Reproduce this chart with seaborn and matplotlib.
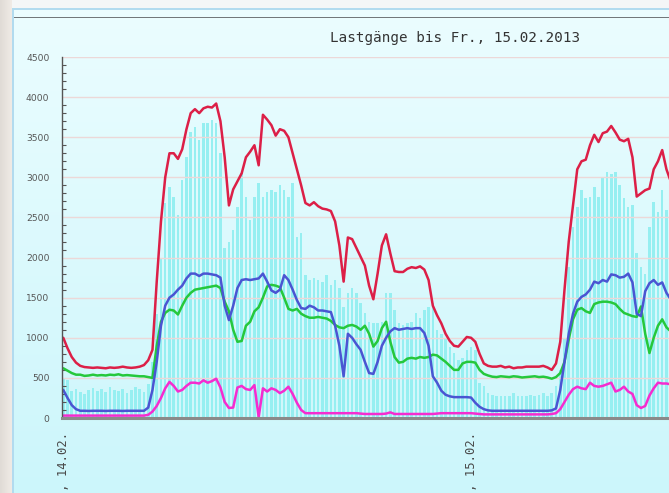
import numpy as np
import pandas as pd
import matplotlib
matplotlib.use("Agg")
import matplotlib.pyplot as plt
import seaborn as sns
from matplotlib.ticker import MultipleLocator

# ---------------- data (15-minute values, Do. 14.02.2013 00:00 onwards) ----------------
red = [1000, 870, 760, 690, 650, 635, 630, 625, 630, 625, 620, 630, 625, 630, 640, 630, 625, 630, 640, 660,
       720, 850, 1700, 2450, 3000, 3300, 3300, 3230, 3350, 3600,
       3800, 3850, 3800, 3860, 3880, 3870, 3920, 3700, 3250, 2650,
       2850, 2950, 3050, 3250, 3320, 3400, 3150, 3780, 3720, 3650,
       3520, 3600, 3580, 3500, 3300, 3100, 2900, 2680, 2650, 2690,
       2640, 2610, 2600, 2580, 2450, 2150, 1700, 2250, 2230, 2120,
       2010, 1900, 1650, 1480, 1800, 2150, 2290, 2050, 1830, 1820,
       1820, 1860, 1880, 1870, 1890, 1850, 1720, 1400, 1280, 1180,
       1050, 960, 900, 890, 950, 1010, 1000, 950, 800, 680,
       650, 640, 640, 650, 630, 640, 620, 630, 630, 640,
       640, 640, 640, 650, 630, 600, 680, 950, 1600, 2200,
       2650, 3100, 3200, 3220, 3400, 3530, 3440, 3550, 3570, 3640,
       3560, 3470, 3450, 3480, 3250, 2760, 2800, 2840, 2860, 3100,
       3200, 3340, 3100, 2950]

blue = [350, 250, 160, 110, 90, 90, 88, 90, 90, 90, 88, 90, 90, 90, 88, 90, 90, 90, 90, 90,
        130, 350, 700, 1150, 1400, 1500, 1540, 1600, 1650, 1740,
        1800, 1800, 1770, 1800, 1800, 1790, 1780, 1750, 1400, 1220,
        1400, 1620, 1720, 1730, 1720, 1730, 1740, 1800, 1700, 1590,
        1560, 1600, 1780, 1720, 1600, 1470, 1370, 1360, 1400, 1380,
        1340, 1340, 1330, 1320, 1150, 900, 520, 1050, 1000, 920,
        850, 700, 560, 550, 700, 900, 1000, 1080, 1120, 1100,
        1110, 1120, 1110, 1120, 1120, 1060, 900, 520, 440, 340,
        290, 270, 260, 260, 260, 260, 255, 190, 140, 110,
        95, 90, 90, 90, 90, 90, 90, 90, 90, 90,
        90, 90, 90, 90, 90, 95, 120, 350, 700, 1050,
        1300, 1450, 1510, 1540, 1600, 1700, 1680, 1720, 1700, 1790,
        1780, 1750, 1760, 1800, 1690, 1300, 1270, 1580, 1680, 1720,
        1660, 1690, 1560, 1480]

green = [620, 590, 560, 540, 540, 525, 530, 540, 530, 535, 530, 540, 535, 545, 530, 535, 530, 525, 520, 520,
         510, 500, 900, 1200, 1310, 1350, 1340, 1290, 1400, 1500,
         1560, 1600, 1610, 1620, 1630, 1640, 1650, 1620, 1450, 1330,
         1100, 950, 960, 1150, 1200, 1330, 1380, 1500, 1640, 1660,
         1650, 1630, 1500, 1360, 1340, 1360, 1300, 1270, 1250, 1250,
         1260, 1250, 1240, 1210, 1160, 1130, 1120, 1150, 1160, 1140,
         1100, 1150, 1050, 890, 960, 1120, 1200, 950, 760, 690,
         700, 740, 750, 740, 760, 750, 760, 790, 780, 740,
         700, 650, 600, 600, 680, 700, 700, 690, 600, 550,
         530, 515, 510, 520, 515, 510, 520, 515, 505, 510,
         515, 520, 510, 515, 505, 490, 510, 560, 700, 980,
         1230, 1350, 1370, 1330, 1310, 1420, 1440, 1450, 1450, 1440,
         1420, 1360, 1310, 1290, 1270, 1260, 1390, 1050, 810, 1000,
         1150, 1230, 1130, 1080]

magenta = [30, 30, 30, 30, 30, 30, 30, 30, 30, 30, 30, 30, 30, 30, 30, 30, 30, 30, 30, 30,
           40, 80, 150, 250, 370, 450, 400, 330, 350, 400,
           440, 440, 430, 470, 440, 460, 490, 380, 200, 125,
           130, 380, 400, 360, 350, 410, 10, 370, 330, 370,
           350, 310, 340, 390, 300, 190, 100, 60, 60, 60,
           60, 60, 60, 60, 60, 60, 60, 60, 60, 60,
           55, 50, 50, 50, 50, 50, 55, 70, 50, 50,
           50, 50, 50, 50, 50, 50, 50, 50, 55, 60,
           60, 60, 60, 60, 60, 60, 60, 55, 50, 45,
           45, 45, 45, 45, 45, 45, 45, 45, 45, 45,
           45, 45, 45, 45, 45, 50, 60, 110, 200, 290,
           360, 390, 370, 360, 440, 400, 390, 400, 420, 440,
           330, 350, 390, 330, 300, 160, 125, 150, 280, 370,
           440, 430, 430, 420]

bars = [480, 470, 340, 360, 320, 300, 350, 380, 340, 360, 330, 390, 350, 340, 360, 310, 350, 390, 360, 330,
        420, 700, 1300, 2000, 2680, 2880, 2760, 2530, 2970, 3250,
        3570, 3630, 3470, 3680, 3680, 3720, 3680, 3300, 2120, 2190,
        2340, 2630, 3050, 2760, 2470, 2760, 2930, 2760, 2820, 2840,
        2820, 2900, 2840, 2760, 2930, 2260, 2310, 1780, 1720, 1740,
        1720, 1700, 1780, 1660, 1720, 1620, 1380, 1560, 1620, 1560,
        1430, 1310, 1200, 1180, 1180, 1200, 1560, 1560, 1350, 1180,
        1160, 1180, 1200, 1310, 1250, 1350, 1380, 1430, 1100, 1050,
        980, 890, 810, 720, 750, 850, 890, 850, 440, 400,
        310, 290, 280, 270, 280, 270, 310, 280, 270, 280,
        290, 280, 290, 310, 280, 310, 400, 600, 1000, 1880,
        2380, 2630, 2840, 2740, 2760, 2880, 2760, 3000, 3070, 3040,
        3070, 2900, 2740, 2630, 2660, 2060, 1880, 1800, 2380, 2690,
        2570, 2840, 2590, 2700]

day_labels = ["Do., 14.02.", "Fr., 15.02."]
title = "Lastgänge bis Fr., 15.02.2013"

# ---------------- figure ----------------
sns.set_style("white")
plt.rcParams["font.family"] = ["DejaVu Sans"]

W, H = 669, 493
fig = plt.figure(figsize=(W / 100, H / 100), dpi=100)

# page / panel background
bg = fig.add_axes([0, 0, 1, 1], zorder=-10)
bg.set_axis_off()
img = np.ones((H, W, 3))
top_c = np.array([0.925, 0.992, 1.0])
bot_c = np.array([0.80, 0.965, 0.985])
frac = np.linspace(0, 1, H)[:, None]
img[:, :, :] = (top_c[None, :] * (1 - frac) + bot_c[None, :] * frac)[:, None, :]
img[:9, :, :] = np.array([0.96, 0.965, 0.97])
img[:, :12, :] = np.array([0.88, 0.86, 0.84])
img[:, :12, :] += np.linspace(0, 0.06, 12)[None, :, None]
img[8:10, 12:, :] = np.array([0.70, 0.86, 0.94])
img[8:, 12:14, :] = np.array([0.70, 0.86, 0.94])
img[17:18, 14:, :] = np.array([0.45, 0.47, 0.48])
bg.imshow(np.clip(img, 0, 1), extent=[0, W, H, 0], aspect="auto", interpolation="nearest")
bg.set_xlim(0, W)
bg.set_ylim(H, 0)

ax = fig.add_axes([62 / W, 75 / H, 1 - 62 / W, 361 / H])
ax.patch.set_alpha(0)

times = pd.date_range("2013-02-14 00:00", periods=len(red), freq="15min")
idx = np.arange(len(red))

sns.barplot(x=idx, y=bars, native_scale=True, color="#96eff1", saturation=1,
            width=0.6, errorbar=None, ax=ax, zorder=1, linewidth=0)

df = pd.DataFrame({"idx": idx, "rot": red, "blau": blue, "gruen": green, "magenta": magenta})
long = df.melt(id_vars="idx", var_name="serie", value_name="wert")
palette = {"rot": "#dc1f47", "blau": "#4a55d2", "gruen": "#25c83c", "magenta": "#f52ccf"}
sns.lineplot(data=long, x="idx", y="wert", hue="serie", palette=palette,
             hue_order=["magenta", "gruen", "blau", "rot"], estimator=None,
             linewidth=1.8, legend=False, ax=ax, zorder=3)
for ln in ax.lines:
    ln.set_zorder(3)

ax.set_ylim(0, 4500)
ax.set_xlim(-0.3, 142.6)
ax.yaxis.set_major_locator(MultipleLocator(500))
ax.yaxis.set_minor_locator(MultipleLocator(100))
ax.yaxis.grid(True, which="major", color="#ecd8d8", linewidth=1.0)
ax.xaxis.grid(False)
ax.set_axisbelow(False)

midnights = [i for i, t in enumerate(times) if t.hour == 0 and t.minute == 0]
ax.set_xticks(midnights)
ax.set_xticklabels(day_labels[:len(midnights)], rotation=90, va="top", ha="center",
                   family="DejaVu Sans Mono", fontsize=8.8, color="#4a4a4a")
ax.tick_params(axis="x", length=0, pad=10)
ax.tick_params(axis="y", which="major", direction="in", length=5, width=1, color="#555555",
               labelsize=6.6, labelcolor="#555555", pad=9)
ax.tick_params(axis="y", which="minor", direction="in", length=3, width=0.8, color="#555555", left=True)
ax.set_xlabel("")
ax.set_ylabel("")

for s in ["top", "right"]:
    ax.spines[s].set_visible(False)
ax.spines["left"].set_color("#555555")
ax.spines["left"].set_linewidth(1.0)
ax.spines["bottom"].set_color("#8a8a8a")
ax.spines["bottom"].set_linewidth(2.2)
ax.spines["left"].set_zorder(4)
ax.spines["bottom"].set_zorder(4)

fig.text(455 / W, 1 - 38 / H, title, ha="center", va="center",
         family="DejaVu Sans Mono", fontsize=10.3, color="#333333")

fig.savefig("out.png", dpi=100)
